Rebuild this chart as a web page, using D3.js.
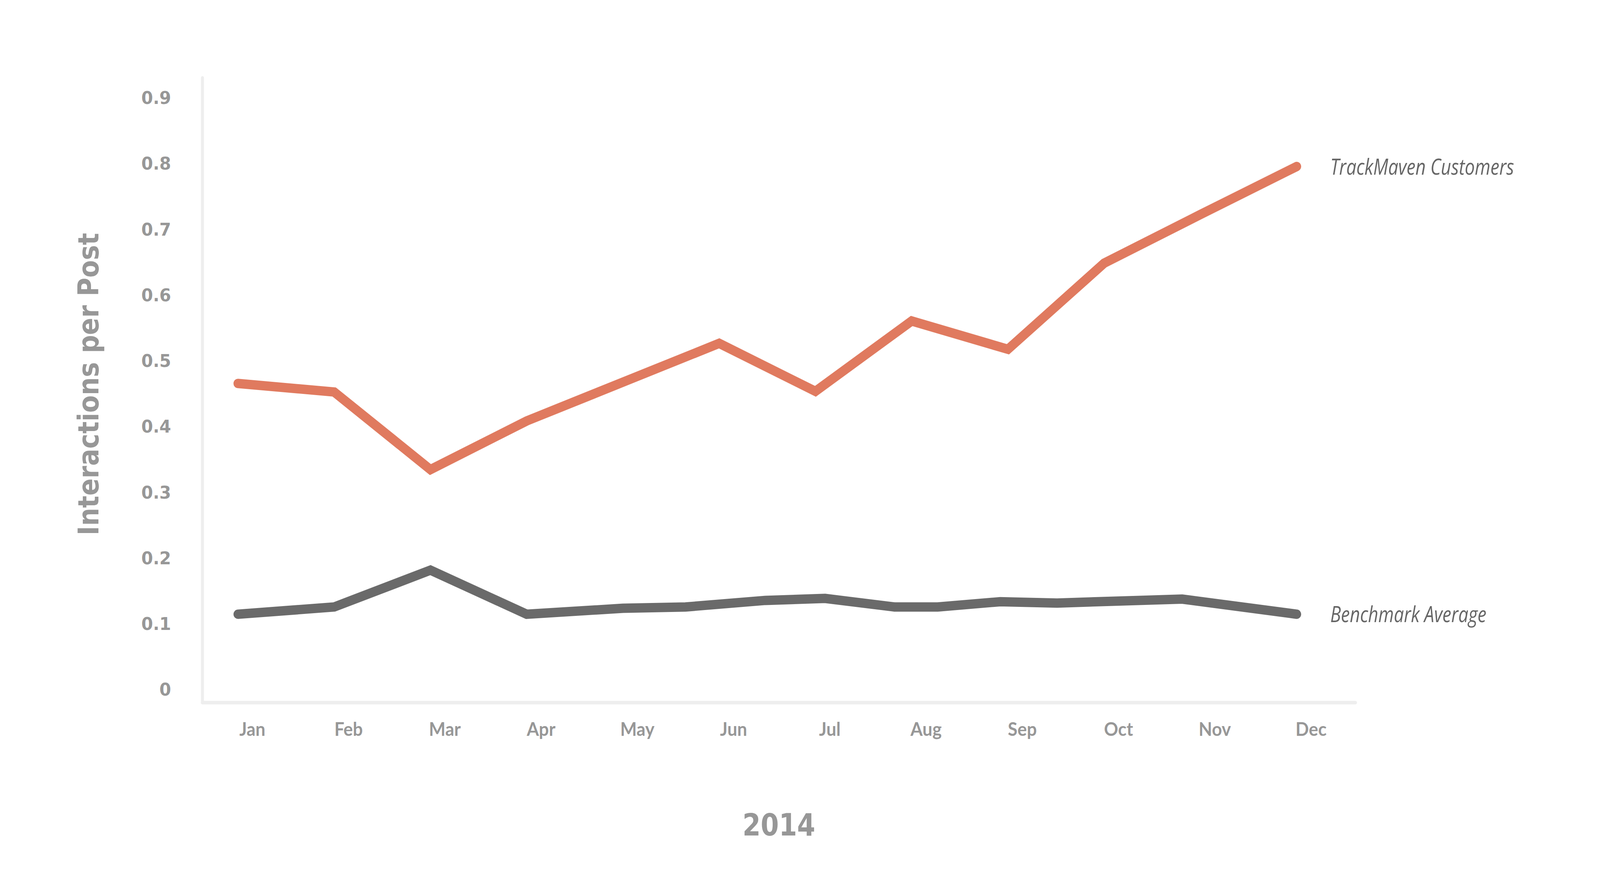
<!DOCTYPE html>
<html>
<head>
<meta charset="utf-8">
<script src="https://cdn.jsdelivr.net/npm/d3@7"></script>
<style>
  html, body { margin: 0; padding: 0; background: #fff; width: 100%; height: 100%; overflow: hidden; }
  svg { display: block; width: 100vw; height: 100vh; }
</style>
</head>
<body>
<svg id="chart"></svg>
<script>
// Interactions per Post, 2014 - TrackMaven customers vs benchmark

const months = ["Jan", "Feb", "Mar", "Apr", "May", "Jun", "Jul", "Aug", "Sep", "Oct", "Nov", "Dec"];

// TrackMaven customers, one value per month
const customerValues = [0.465, 0.452, 0.334, 0.408, 0.467, 0.526, 0.453, 0.560, 0.517, 0.648, 0.722, 0.795];

// benchmark line has some points between months (position in months from Jan)
const benchmarkPos = [0, 1, 2, 3, 4, 4.65, 5.48, 6.1, 6.82, 7.27, 7.92, 8.51, 9.81, 11];
const benchmarkValues = [0.114, 0.125, 0.181, 0.114, 0.123, 0.125, 0.135, 0.138, 0.125, 0.125, 0.133, 0.131, 0.137, 0.114];

const yTicks = [0, 0.1, 0.2, 0.3, 0.4, 0.5, 0.6, 0.7, 0.8, 0.9];

const seriesNames = ["TrackMaven Customers", "Benchmark Average"];

const width = 4283;
const height = 2257;

const colors = {
    customers: '#e07a5f',
    benchmark: '#6a6a6a',
    axis: '#eeeeee',
    tickText: '#979797',
    label: '#666666'
};

// plot frame (axis lines)
const frame = { left: 542, right: 3628, top: 199, bottom: 1798 };

// drawing is done in reference pixels, the viewBox scales it to the window
const svg = d3.select('#chart')
    .attr('viewBox', `0 0 ${width} ${height}`)
    .attr('preserveAspectRatio', 'none');

const x = d3.scaleLinear()
    .domain([0, months.length - 1])
    .range([637, 3471]);

const y = d3.scaleLinear()
    .domain([-0.0205, 0.93])
    .range([frame.bottom, frame.top]);

// axis lines (light grey, rounded ends)
svg.append('line')
    .attr('x1', frame.left).attr('x2', frame.left)
    .attr('y1', y(0.93)).attr('y2', y(-0.0205))
    .attr('stroke', colors.axis)
    .attr('stroke-width', 8)
    .attr('stroke-linecap', 'round');

svg.append('line')
    .attr('x1', frame.left).attr('x2', frame.right)
    .attr('y1', frame.bottom).attr('y2', frame.bottom)
    .attr('stroke', colors.axis)
    .attr('stroke-width', 9)
    .attr('stroke-linecap', 'round');

// y ticks
const yAxis = d3.axisLeft(y)
    .tickValues(yTicks)
    .tickSize(0)
    .tickPadding(84)
    .tickFormat(d => d === 0 ? '0' : d3.format('.1f')(d));

const yAxisG = svg.append('g')
    .attr('transform', `translate(${frame.left},0)`)
    .call(yAxis);
yAxisG.select('.domain').remove();
yAxisG.selectAll('text')
    .attr('fill', colors.tickText)
    .attr('font-family', '"DejaVu Sans", sans-serif')
    .attr('font-weight', 700)
    .attr('font-size', 45)
    .attr('dy', '0.36em');

// x ticks (month names sit a little right of the data points)
const xAxis = d3.axisBottom(x)
    .tickValues(d3.range(months.length))
    .tickSize(0)
    .tickPadding(52)
    .tickFormat(i => months[i]);

const xAxisG = svg.append('g')
    .attr('transform', `translate(0,${frame.bottom})`)
    .call(xAxis);
xAxisG.select('.domain').remove();
xAxisG.selectAll('text')
    .attr('fill', colors.tickText)
    .attr('font-family', 'Lato, "Liberation Sans", sans-serif')
    .attr('font-weight', 700)
    .attr('font-size', 47)
    .attr('dx', 38);

// axis titles
svg.append('text')
    .attr('x', (frame.left + frame.right) / 2)
    .attr('y', 2138)
    .attr('text-anchor', 'middle')
    .attr('fill', colors.tickText)
    .attr('font-family', '"DejaVu Sans", sans-serif')
    .attr('font-weight', 700)
    .attr('font-size', 78)
    .attr('textLength', 195)
    .attr('lengthAdjust', 'spacingAndGlyphs')
    .text('2014');

svg.append('text')
    .attr('transform', 'translate(263,983) rotate(-90)')
    .attr('text-anchor', 'middle')
    .attr('fill', colors.tickText)
    .attr('font-family', '"DejaVu Sans", sans-serif')
    .attr('font-weight', 700)
    .attr('font-size', 76)
    .attr('textLength', 774)
    .attr('lengthAdjust', 'spacingAndGlyphs')
    .text('Interactions per Post');

// lines
const customerData = customerValues.map((v, i) => ({ pos: i, value: v }));
const benchmarkData = benchmarkValues.map((v, i) => ({ pos: benchmarkPos[i], value: v }));

const line = d3.line()
    .x(d => x(d.pos))
    .y(d => y(d.value));

const series = [
    { name: seriesNames[0], data: customerData, color: colors.customers, labelLength: 492 },
    { name: seriesNames[1], data: benchmarkData, color: colors.benchmark, labelLength: 418 }
];

svg.selectAll('path.series')
    .data(series)
    .enter()
    .append('path')
    .attr('class', 'series')
    .attr('d', d => line(d.data))
    .attr('fill', 'none')
    .attr('stroke', d => d.color)
    .attr('stroke-width', 24)
    .attr('stroke-linejoin', 'miter')
    .attr('stroke-linecap', 'round');

// end labels
svg.selectAll('text.series-label')
    .data(series)
    .enter()
    .append('text')
    .attr('class', 'series-label')
    .attr('x', d => x(d.data[d.data.length - 1].pos) + 90)
    .attr('y', d => y(d.data[d.data.length - 1].value))
    .attr('dy', '0.36em')
    .attr('fill', colors.label)
    .attr('font-family', '"Liberation Sans Narrow", "Open Sans", sans-serif')
    .attr('font-style', 'italic')
    .attr('font-size', 57)
    .attr('textLength', d => d.labelLength)
    .attr('lengthAdjust', 'spacingAndGlyphs')
    .text(d => d.name);
</script>
</body>
</html>
